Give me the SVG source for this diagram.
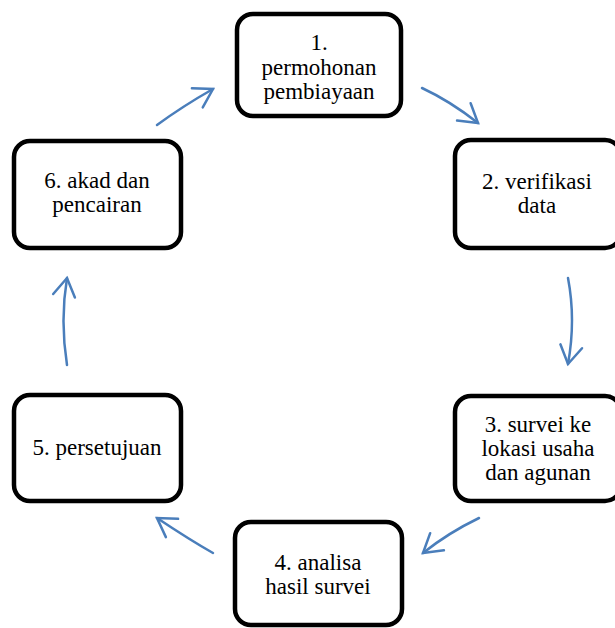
<svg xmlns="http://www.w3.org/2000/svg" width="615" height="628" viewBox="0 0 615 628">
<style>
.box{fill:#fff;stroke:#000;stroke-width:4.5}
text{font-family:'Liberation Serif','DejaVu Serif',serif;font-size:23px;fill:#000;text-anchor:middle}
.c{fill:none;stroke:#4a7ebb;stroke-width:2.5;stroke-linecap:round;marker-end:url(#ah)}
</style>
<defs>
<marker id="ah" markerUnits="userSpaceOnUse" markerWidth="30" markerHeight="30" viewBox="-25 -15 30 30" refX="0" refY="0" orient="auto" overflow="visible">
<path d="M-18,-11 L0,0 L-18,11" fill="none" stroke="#4a7ebb" stroke-width="2.5" stroke-linecap="round"/>
</marker>
</defs>
<rect width="615" height="628" fill="#fff"/>
<g id="connectors">
<path class="c" d="M422,88 Q450,101 478,123"/>
<path class="c" d="M568,278 Q576,320 568,364"/>
<path class="c" d="M479,518 Q448,533 423,553"/>
<path class="c" d="M213,553 Q190,540 157,518"/>
<path class="c" d="M67,365 Q60,320 67,278"/>
<path class="c" d="M157,125 Q183,106 213,89"/>
</g>
<g id="n1"><rect class="box" x="237" y="14" width="164" height="102" rx="16"/>
<text font-family="Liberation Serif, serif" x="319" y="50">1.</text><text font-family="Liberation Serif, serif" x="319" y="75">permohonan</text><text font-family="Liberation Serif, serif" x="319" y="99">pembiayaan</text></g>
<g id="n2"><rect class="box" x="455" y="140" width="166" height="108" rx="16"/>
<text font-family="Liberation Serif, serif" x="537" y="189">2. verifikasi</text><text font-family="Liberation Serif, serif" x="537" y="213">data</text></g>
<g id="n3"><rect class="box" x="455" y="396" width="166" height="105" rx="16"/>
<text font-family="Liberation Serif, serif" x="538" y="432">3. survei ke</text><text font-family="Liberation Serif, serif" x="538" y="456">lokasi usaha</text><text font-family="Liberation Serif, serif" x="538" y="480">dan agunan</text></g>
<g id="n4"><rect class="box" x="235" y="522" width="167" height="103" rx="16"/>
<text font-family="Liberation Serif, serif" x="318" y="570">4. analisa</text><text font-family="Liberation Serif, serif" x="318" y="594">hasil survei</text></g>
<g id="n5"><rect class="box" x="14" y="395" width="167" height="106" rx="16"/>
<text font-family="Liberation Serif, serif" x="97" y="455">5. persetujuan</text></g>
<g id="n6"><rect class="box" x="14" y="141" width="167" height="107" rx="16"/>
<text font-family="Liberation Serif, serif" x="97" y="188">6. akad dan</text><text font-family="Liberation Serif, serif" x="97" y="212">pencairan</text></g>
</svg>
